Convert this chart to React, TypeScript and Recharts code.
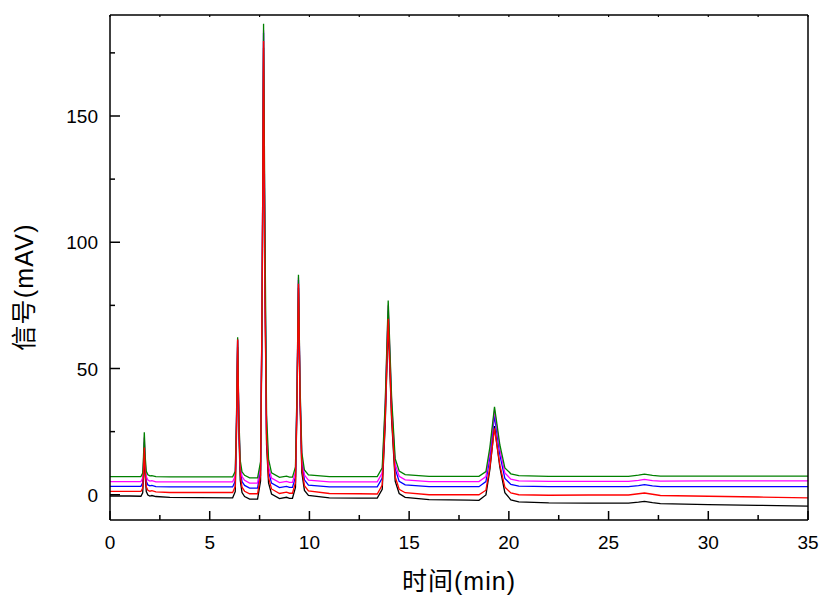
import React from 'react';
import { LineChart, Line, XAxis, YAxis, Label } from 'recharts';

const TIMES = [0, 1.0, 1.55, 1.64, 1.68, 1.72, 1.77, 1.82, 1.9, 2.0, 2.1, 2.3, 3.0, 4.5, 6.0, 6.15, 6.28, 6.34, 6.4, 6.46, 6.53, 6.62, 6.75, 7.0, 7.4, 7.55, 7.63, 7.7, 7.77, 7.85, 7.95, 8.1, 8.5, 8.85, 9.0, 9.15, 9.3, 9.38, 9.45, 9.53, 9.62, 9.75, 9.95, 11, 12.5, 13.4, 13.65, 13.8, 13.95, 14.12, 14.3, 14.5, 14.8, 16, 18.0, 18.5, 18.85, 19.05, 19.28, 19.55, 19.8, 20.1, 20.5, 22, 24, 26.0, 26.5, 26.8, 27.2, 27.6, 30, 32.5, 35];

const BLACK = [-0.5, -0.5, -0.6, 0.8, 7.3, 16.8, 6.7, 1.3, -0.1, -0.5, -0.3, -0.7, -1.0, -1.1, -1.2, -1.2, 1.2, 22.7, 58.5, 25.6, 5.8, 0.9, -0.7, -1.7, -1.7, 5.5, 73.5, 177, 84.2, 19.9, 4.7, 0.3, -1.5, -1.0, -1.4, -1.4, 2.9, 36.2, 82, 36.2, 8.7, 1.7, -0.3, -1.2, -1.3, -1.3, 2.2, 27.8, 68, 29.8, 5.4, 0.5, -1.0, -1.9, -2.1, -2.2, -0.1, 10.1, 27.2, 10.8, 0.8, -2.0, -2.8, -3.2, -3.3, -3.3, -2.9, -2.6, -3.1, -3.5, -3.9, -4.2, -4.5];

const RED = [1.3, 1.3, 1.3, 2.6, 9.1, 18.7, 8.6, 3.2, 1.8, 1.4, 1.6, 1.1, 0.9, 0.9, 0.9, 0.9, 3.3, 25.1, 61.5, 28.1, 8.0, 3.0, 1.4, 0.4, 0.4, 7.7, 82.0, 179.7, 78.0, 22.0, 6.8, 2.3, 0.5, 1.0, 0.6, 0.6, 4.8, 38.0, 83.6, 38.0, 10.6, 3.6, 1.5, 0.5, 0.4, 0.3, 3.8, 29.4, 69.7, 31.4, 7.1, 2.2, 0.8, 0.0, 0.0, 0.0, 1.8, 11.0, 26.3, 11.7, 3.0, 0.7, 0.0, -0.2, -0.1, -0.1, 0.4, 0.7, 0.2, -0.3, -0.6, -0.9, -1.2];

const BLUE = [3.3, 3.3, 3.3, 4.7, 11.2, 20.8, 10.6, 5.3, 3.9, 3.5, 3.7, 3.2, 3.1, 3.1, 3.1, 3.1, 5.4, 26.3, 61.2, 29.1, 10.0, 5.2, 3.7, 2.6, 2.6, 9.9, 78.2, 183, 89.0, 24.3, 9.1, 4.6, 2.8, 3.3, 2.9, 2.9, 7.1, 39.8, 85, 39.8, 12.8, 5.9, 3.8, 3.1, 3.1, 3.1, 6.6, 32.4, 73, 34.6, 10.2, 5.3, 3.9, 3.2, 3.2, 3.2, 5.2, 15.0, 31.3, 15.8, 6.5, 4.1, 3.4, 3.2, 3.2, 3.2, 3.6, 4.0, 3.5, 3.2, 3.2, 3.2, 3.2];

const MAGENTA = [5.2, 5.2, 5.2, 6.6, 13.1, 22.7, 12.5, 7.2, 5.8, 5.4, 5.6, 5.1, 5.1, 5.1, 5.1, 5.1, 7.4, 27.8, 61.8, 30.5, 11.8, 7.2, 5.7, 4.6, 4.6, 11.9, 79.8, 184, 90.6, 26.2, 11.1, 6.6, 4.8, 5.3, 4.9, 4.9, 9.0, 41.4, 86, 41.4, 14.7, 7.8, 5.8, 5.1, 5.1, 5.1, 8.6, 34.5, 75, 36.7, 12.2, 7.3, 5.9, 5.2, 5.2, 5.2, 7.2, 17.1, 33.5, 17.9, 8.6, 6.2, 5.5, 5.3, 5.3, 5.3, 5.7, 6.1, 5.6, 5.4, 5.5, 5.5, 5.5];

const GREEN = [7.2, 7.2, 7.2, 8.6, 15.1, 24.7, 14.5, 9.3, 7.9, 7.5, 7.6, 7.2, 7.1, 7.1, 7.1, 7.1, 9.3, 29.2, 62.4, 31.8, 13.6, 9.1, 7.7, 6.7, 6.7, 13.1, 75.0, 186.5, 105.5, 31.9, 14.1, 8.7, 6.9, 7.4, 7.0, 7.0, 11.0, 43.0, 87.1, 43.0, 16.6, 9.8, 7.9, 7.2, 7.2, 7.2, 10.7, 36.5, 76.9, 38.7, 14.3, 9.4, 8.0, 7.3, 7.3, 7.3, 9.2, 18.9, 34.8, 19.7, 10.6, 8.3, 7.6, 7.3, 7.3, 7.3, 7.8, 8.2, 7.7, 7.4, 7.4, 7.4, 7.4];

const X_TICKS = [0, 2.5, 5, 7.5, 10, 12.5, 15, 17.5, 20, 22.5, 25, 27.5, 30, 32.5, 35];
const Y_TICKS = [0, 25, 50, 75, 100, 125, 150, 175];
const X_TITLE = '时间(min)';
const Y_TITLE = '信号(mAV)';

const data = TIMES.map((t, i) => ({
  t,
  black: BLACK[i],
  red: RED[i],
  blue: BLUE[i],
  magenta: MAGENTA[i],
  green: GREEN[i],
}));

const FONT = '"Liberation Sans", Arial, "Noto Sans CJK SC", sans-serif';

const BottomTick = (props: any) => {
  const { x, y, payload } = props;
  const major = payload.value % 5 === 0;
  return (
    <g>
      <line x1={x} y1={y} x2={x} y2={y - (major ? 9 : 5)} stroke="#000" strokeWidth={1.5} />
      {major && (
        <text x={x} y={y + 29} textAnchor="middle" fontSize={19} fontFamily={FONT} fill="#000">
          {payload.value}
        </text>
      )}
    </g>
  );
};

const TopTick = (props: any) => {
  const { x, y } = props;
  return <line x1={x} y1={y} x2={x} y2={y + 2} stroke="#000" strokeWidth={1.2} />;
};

const LeftTick = (props: any) => {
  const { x, y, payload } = props;
  const major = payload.value % 50 === 0;
  return (
    <g>
      <line x1={x} y1={y} x2={x + (major ? 10 : 5)} y2={y} stroke="#000" strokeWidth={1.5} />
      {major && (
        <text x={x - 12} y={y + 7} textAnchor="end" fontSize={19} fontFamily={FONT} fill="#000">
          {payload.value}
        </text>
      )}
    </g>
  );
};

const RightTick = (props: any) => {
  const { x, y } = props;
  return <line x1={x} y1={y} x2={x - 2} y2={y} stroke="#000" strokeWidth={1.2} />;
};

const XTitle = (props: any) => {
  const vb = props.viewBox || { x: 110, y: 520, width: 697, height: 78 };
  const cx = vb.x + vb.width / 2;
  return (
    <text x={cx} y={vb.y + 70} textAnchor="middle" fontSize={25} letterSpacing={1} fontFamily={FONT} fill="#000">
      {X_TITLE}
    </text>
  );
};

const YTitle = () => {
  const bx = 33;
  const cy = 287;
  return (
    <text
      x={bx}
      y={cy}
      transform={`rotate(-90, ${bx}, ${cy})`}
      textAnchor="middle"
      fontSize={25}
      letterSpacing={1.2}
      fontFamily={FONT}
      fill="#000"
    >
      {Y_TITLE}
    </text>
  );
};

const axisLine = { stroke: '#000', strokeWidth: 1.5 };

export default function App() {
  return (
    <div style={{ position: 'absolute', left: 0, top: 0, width: 820, height: 598, background: '#fff' }}>
      <LineChart
        width={820}
        height={598}
        data={data}
        margin={{ top: 14, right: 11, left: 0, bottom: 0 }}
      >
        <XAxis
          dataKey="t"
          type="number"
          domain={[0, 35]}
          ticks={X_TICKS}
          interval={0}
          height={78}
          tickSize={0}
          tickMargin={0}
          tickLine={false}
          axisLine={axisLine}
          tick={<BottomTick />}
        >
          <Label content={<XTitle />} />
        </XAxis>
        <XAxis
          xAxisId="top"
          orientation="top"
          dataKey="t"
          type="number"
          domain={[0, 35]}
          ticks={X_TICKS}
          interval={0}
          height={1}
          tickSize={0}
          tickMargin={0}
          tickLine={false}
          axisLine={axisLine}
          tick={<TopTick />}
        />
        <YAxis
          type="number"
          domain={[-10, 190]}
          ticks={Y_TICKS}
          interval={0}
          width={110}
          tickSize={0}
          tickMargin={0}
          tickLine={false}
          axisLine={axisLine}
          tick={<LeftTick />}
        >
          <Label content={<YTitle />} />
        </YAxis>
        <YAxis
          yAxisId="right"
          orientation="right"
          type="number"
          domain={[-10, 190]}
          ticks={Y_TICKS}
          interval={0}
          width={1}
          tickSize={0}
          tickMargin={0}
          tickLine={false}
          axisLine={axisLine}
          tick={<RightTick />}
        />
        <Line dataKey="black" stroke="#000000" strokeWidth={1.3} dot={false} isAnimationActive={false} type="linear" />
        <Line dataKey="blue" stroke="#0000ff" strokeWidth={1.3} dot={false} isAnimationActive={false} type="linear" />
        <Line dataKey="magenta" stroke="#ff00ff" strokeWidth={1.3} dot={false} isAnimationActive={false} type="linear" />
        <Line dataKey="green" stroke="#008000" strokeWidth={1.3} dot={false} isAnimationActive={false} type="linear" />
        <Line dataKey="red" stroke="#ff0000" strokeWidth={1.3} dot={false} isAnimationActive={false} type="linear" />
      </LineChart>
    </div>
  );
}
